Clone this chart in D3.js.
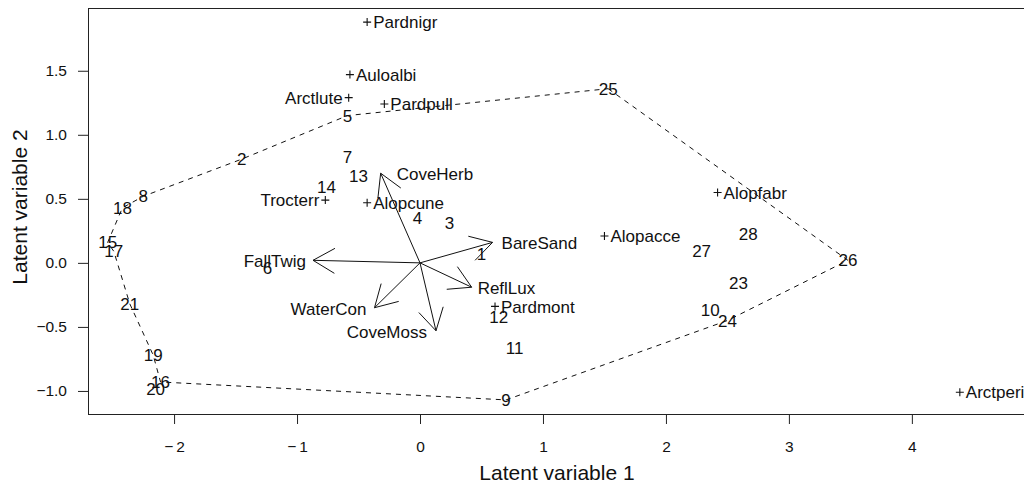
<!DOCTYPE html>
<html>
<head>
<meta charset="utf-8">
<script src="https://cdn.jsdelivr.net/npm/d3@7"></script>
<style>
  html, body { margin: 0; padding: 0; background: #fff; }
  svg { display: block; font-family: "Liberation Sans", Arial, Helvetica, sans-serif; }
</style>
</head>
<body>
<svg id="chart" width="1024" height="485"></svg>
<script>
// ---- data ----
const siteIds = ["1","2","3","4","5","6","7","8","9","10","11","12","13","14","15","16","17","18","19","20","21","23","24","25","26","27","28"];
const siteX = [0.50,-1.45,0.24,-0.02,-0.59,-1.24,-0.59,-2.25,0.70,2.36,0.77,0.64,-0.50,-0.76,-2.54,-2.11,-2.49,-2.42,-2.17,-2.15,-2.36,2.59,2.50,1.53,3.48,2.29,2.67];
const siteY = [0.07,0.81,0.31,0.35,1.15,-0.04,0.83,0.52,-1.07,-0.37,-0.66,-0.42,0.68,0.59,0.16,-0.93,0.09,0.43,-0.72,-0.98,-0.32,-0.16,-0.45,1.36,0.02,0.09,0.23];
const hullOrder = ["25","26","24","9","16","19","21","17","15","18","8","2","5","25"];

const speciesNames = ["Pardnigr","Auloalbi","Arctlute","Pardpull","Trocterr","Alopcune","Alopfabr","Alopacce","Pardmont","Arctperi"];
const speciesX = [-0.43,-0.57,-0.58,-0.29,-0.77,-0.43,2.42,1.50,0.61,4.39];
const speciesY = [1.88,1.47,1.29,1.24,0.49,0.47,0.55,0.21,-0.34,-1.01];
const speciesSide = ["right","right","left","right","left","right","right","right","right","right"];

const envNames = ["CoveHerb","BareSand","ReflLux","FallTwig","WaterCon","CoveMoss"];
const envX = [-0.32,0.59,0.42,-0.87,-0.37,0.13];
const envY = [0.70,0.16,-0.19,0.02,-0.35,-0.53];
const envSide = ["right","right","right","left","left","left"];

const xTicks = [-2,-1,0,1,2,3,4];
const yTicks = [-1.0,-0.5,0.0,0.5,1.0,1.5];
const xTitle = "Latent variable 1";
const yTitle = "Latent variable 2";

// ---- style ----
const labelGap = { CoveHerb: 16, BareSand: 9, ReflLux: 6, FallTwig: 7, WaterCon: 8, CoveMoss: 9 };
const ink = "#111";

// ---- layout ----
const svg = d3.select("#chart");
const L = 88, T = 8, R = 1025, B = 414;
const x = d3.scaleLinear().domain([-2.70, 4.92]).range([L, R]);
const y = d3.scaleLinear().domain([-1.18, 1.99]).range([B, T]);
const minus = s => s.replace("-", "\u2212\u2009");
const fmtY = v => minus(d3.format(".1f")(v));
const fmtX = v => minus(String(v));

// axes
const xAxis = d3.axisBottom(x).tickValues(xTicks).tickFormat(fmtX).tickSizeOuter(0).tickSize(10);
const yAxis = d3.axisLeft(y).tickValues(yTicks).tickFormat(fmtY).tickSizeOuter(0).tickSize(10).tickPadding(11);

const gx = svg.append("g").attr("transform", `translate(0,${B})`).call(xAxis);
const gy = svg.append("g").attr("transform", `translate(${L},0)`).call(yAxis);
[gx, gy].forEach(g => {
  g.select(".domain").remove();
  g.selectAll("line").attr("stroke", "#222").attr("stroke-width", 1);
  g.selectAll("text").attr("font-size", "15.5px").attr("fill", ink)
    .attr("font-family", "'Liberation Sans', Arial, sans-serif");
});
gx.selectAll("text").attr("dy", null).attr("y", 38);

// frame
svg.append("rect").attr("x", L + 0.5).attr("y", T + 0.5)
  .attr("width", R - L).attr("height", B - T)
  .attr("fill", "none").attr("stroke", "#222").attr("stroke-width", 1);

// titles
svg.append("text").attr("x", 557).attr("y", 480).attr("text-anchor", "middle")
  .attr("font-size", "21px").attr("fill", ink).text(xTitle);
svg.append("text").attr("transform", `translate(27,${207}) rotate(-90)`)
  .attr("text-anchor", "middle").attr("font-size", "21px").attr("fill", ink).text(yTitle);

const plot = svg.append("g");

// hull
const siteIndex = new Map(siteIds.map((id, i) => [id, i]));
const hullPts = hullOrder.map(id => [x(siteX[siteIndex.get(id)]), y(siteY[siteIndex.get(id)])]);
plot.append("path").attr("d", d3.line()(hullPts))
  .attr("fill", "none").attr("stroke", ink).attr("stroke-width", 1)
  .attr("stroke-dasharray", "5,5");

// site labels
plot.selectAll("text.site").data(siteIds).enter().append("text")
  .attr("class", "site")
  .attr("x", (d, i) => x(siteX[i])).attr("y", (d, i) => y(siteY[i]))
  .attr("dy", "0.36em").attr("text-anchor", "middle")
  .attr("font-size", "17px").attr("fill", ink).text(d => d);

// species
const sp = plot.selectAll("g.sp").data(speciesNames).enter().append("g").attr("class", "sp");
sp.append("path")
  .attr("d", (d, i) => {
    const cx = x(speciesX[i]), cy = y(speciesY[i]), h = 4;
    return `M${cx - h},${cy}H${cx + h}M${cx},${cy - h}V${cy + h}`;
  })
  .attr("stroke", ink).attr("stroke-width", 1.1);
sp.append("text")
  .attr("x", (d, i) => x(speciesX[i]) + (speciesSide[i] === "right" ? 6 : -6))
  .attr("y", (d, i) => y(speciesY[i]))
  .attr("dy", "0.36em")
  .attr("text-anchor", (d, i) => speciesSide[i] === "right" ? "start" : "end")
  .attr("font-size", "17px").attr("fill", ink).text(d => d);

// environmental arrows
const ox = x(0), oy = y(0);
const headLen = 25, headAng = Math.PI / 6;
const ar = plot.selectAll("g.env").data(envNames).enter().append("g").attr("class", "env");
ar.append("path")
  .attr("d", (d, i) => {
    const tx = x(envX[i]), ty = y(envY[i]);
    const a = Math.atan2(ty - oy, tx - ox);
    const p1 = [tx - headLen * Math.cos(a - headAng), ty - headLen * Math.sin(a - headAng)];
    const p2 = [tx - headLen * Math.cos(a + headAng), ty - headLen * Math.sin(a + headAng)];
    return `M${ox},${oy}L${tx},${ty}M${p1[0]},${p1[1]}L${tx},${ty}L${p2[0]},${p2[1]}`;
  })
  .attr("fill", "none").attr("stroke", ink).attr("stroke-width", 1);
ar.append("text")
  .attr("x", (d, i) => x(envX[i]) + (envSide[i] === "right" ? labelGap[d] : -labelGap[d]))
  .attr("y", (d, i) => y(envY[i]) + 1)
  .attr("dy", "0.36em")
  .attr("text-anchor", (d, i) => envSide[i] === "right" ? "start" : "end")
  .attr("font-size", "17px").attr("fill", ink).text(d => d);
</script>
</body>
</html>
